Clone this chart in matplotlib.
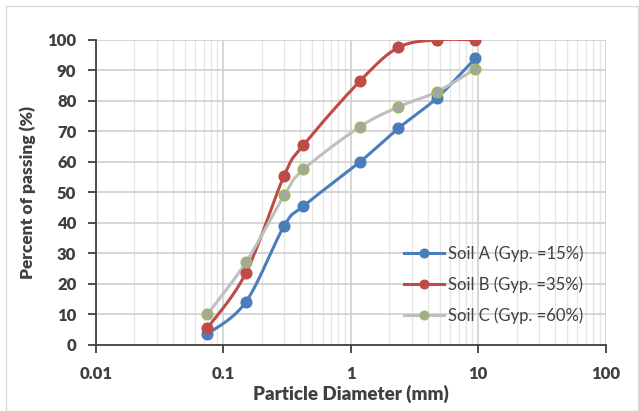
import numpy as np
import matplotlib
matplotlib.use('Agg')
import matplotlib.pyplot as plt
from matplotlib.patches import Rectangle
from matplotlib.ticker import LogLocator, FixedLocator, NullFormatter

plt.rcParams['font.family'] = ['Lato', 'DejaVu Sans']

# sieve sizes (mm)
sieve = [0.075, 0.15, 0.3, 0.425, 1.18, 2.36, 4.75, 9.5]
soil_a = [3.5, 14, 39, 45.5, 60, 71, 81, 94]
soil_b = [5.5, 23.5, 55.5, 65.5, 86.5, 97.5, 100, 100]
soil_c = [10, 27, 49, 57.5, 71.5, 78, 83, 90.5]
labels = ['Soil A (Gyp. =15%)', 'Soil B (Gyp. =35%)', 'Soil C (Gyp. =60%)']


def smooth(x, y, n=30):
    # excel-like smoothed line: catmull-rom in (log x, y) screen-ish space
    lx = np.log10(x) * 127.5
    yy = np.array(y, dtype=float) * 3.05
    P = np.column_stack([lx, yy])
    P = np.vstack([P[0], P, P[-1]])
    out = []
    for i in range(1, len(P) - 2):
        p0, p1, p2, p3 = P[i - 1], P[i], P[i + 1], P[i + 2]
        c1 = p1 + (p2 - p0) / 6
        c2 = p2 - (p3 - p1) / 6
        t = np.linspace(0, 1, n)[:, None]
        seg = ((1 - t) ** 3) * p1 + 3 * ((1 - t) ** 2) * t * c1 + 3 * (1 - t) * t ** 2 * c2 + t ** 3 * p2
        out.append(seg)
    out = np.vstack(out)
    return 10 ** (out[:, 0] / 127.5), out[:, 1] / 3.05


fig = plt.figure(figsize=(6.39, 4.11), dpi=100)
ax = fig.add_axes([0.150, 0.161, 0.798, 0.742])
fig.patches.append(Rectangle((6 / 639, 0), 1 - 7 / 639, 1 - 6 / 411, transform=fig.transFigure,
                             fill=False, edgecolor='#d9d9d9', linewidth=1))

series = [
    (soil_a, '#4a7ebb', '#4a7ebb', '#4a7ebb'),
    (soil_b, '#be4b48', '#be4b48', '#be4b48'),
    (soil_c, '#bfbfbf', '#a5a5a5', '#9bbb59'),
]
for (vals, lc, mfc, mec), lab in zip(series, labels):
    sx, sy = smooth(sieve, vals)
    ax.plot(sx, sy, color=lc, lw=2.2, zorder=3)
    ax.plot(sieve, vals, 'o', color=mfc, mec=mec, mew=1.2, ms=7.5, zorder=4)
    ax.plot([], [], '-o', color=lc, mfc=mfc, mec=mec, mew=1.2, ms=6, lw=2.2, label=lab)

ax.set_xscale('log')
ax.set_xlim(0.01, 100)
ax.set_ylim(0, 100)
ax.yaxis.set_major_locator(FixedLocator(range(0, 101, 10)))
ax.xaxis.set_major_locator(FixedLocator([0.01, 0.1, 1, 10, 100]))
ax.set_xticklabels(['0.01', '0.1', '1', '10', '100'])
ax.xaxis.set_minor_locator(LogLocator(base=10, subs=np.arange(2, 10)))
ax.xaxis.set_minor_formatter(NullFormatter())

ax.grid(which='major', color='#d0d0d0', lw=1.2)
ax.grid(which='minor', axis='x', color='#e6e6e6', lw=1)
ax.set_axisbelow(True)

for s in ['top', 'right']:
    ax.spines[s].set_visible(False)
for s in ['left', 'bottom']:
    ax.spines[s].set_color('#404040')
    ax.spines[s].set_linewidth(1.3)
ax.tick_params(which='major', length=6, width=1.3, color='#404040', labelsize=12,
               labelcolor='#404040', direction='out')
ax.tick_params(axis='y', pad=8)
ax.tick_params(axis='x', pad=9)
ax.tick_params(axis='x', which='minor', length=0)
for t in ax.get_xticklabels() + ax.get_yticklabels():
    t.set_fontweight('heavy')

ax.set_xlabel('Particle Diameter (mm)', fontsize=13.5, fontweight='heavy', color='#404040', labelpad=2)
ax.set_ylabel('Percent of passing (%)', fontsize=12.5, fontweight='heavy', color='#404040', labelpad=8)

ax.legend(loc='lower right', bbox_to_anchor=(0.985, 0.02), frameon=False, fontsize=12,
          labelcolor='#404040', handlelength=2.4, labelspacing=0.85, handletextpad=0.2)

fig.savefig('out.png', dpi=100)
